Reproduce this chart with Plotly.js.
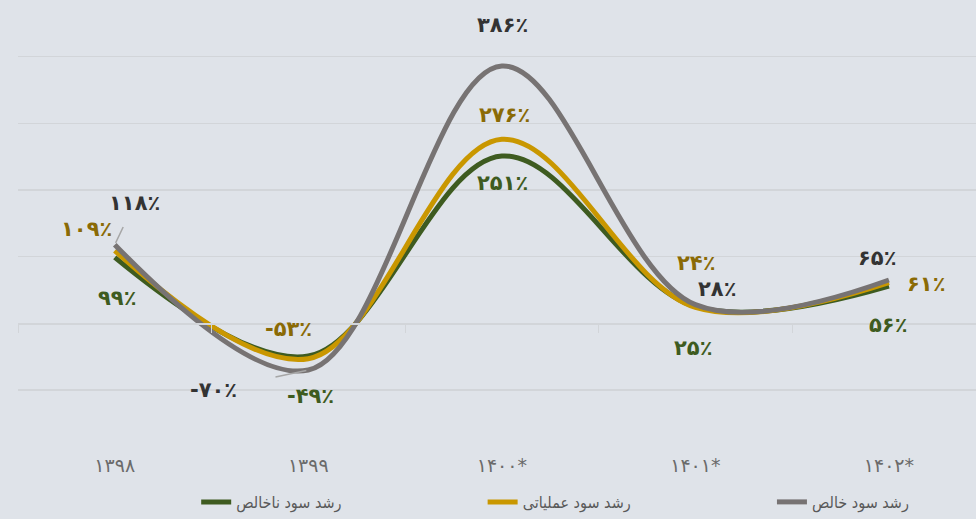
<!DOCTYPE html>
<html>
<head>
<meta charset="utf-8">
<script src="https://cdn.plot.ly/plotly-3.0.1.min.js"></script>
<style>
  body { margin: 0; background: #dfe3e9; }
  #chart { width: 976px; height: 519px; }
</style>
</head>
<body>
<div id="chart"></div>
<script>
// سال‌ها (دسته‌ها)
const years = ['۱۳۹۸', '۱۳۹۹', '۱۴۰۰*', '۱۴۰۱*', '۱۴۰۲*'];

// نام سری‌ها
const seriesNames = ['رشد سود ناخالص', 'رشد سود عملیاتی', 'رشد سود خالص'];

// مقادیر (درصد)
const grossGrowth = [99, -49, 251, 25, 56];
const operatingGrowth = [109, -53, 276, 24, 61];
const netGrowth = [118, -70, 386, 28, 65];

const colors = ['#3e5b20', '#c99700', '#777373'];
const labelColors = ['#3e5b20', '#8a6a05', '#333333'];

// جابه‌جایی برچسب‌ها نسبت به نقطه (پیکسل)
const shiftX = [
    [2, 2, 1, -2, -1],
    [-28, -20, 3, 1, 37],
    [20, -95, 1, 22, -12]
];
const shiftY = [
    [-41, -40, -27, -41, -39],
    [22, 30, 24, 44, -1],
    [42, -20, 41, 16, 22]
];
// جای افقی هر راهنما (کسر عرض نمودار)
const legendX = [0.186, 0.485, 0.787];

function toPersian(n) {
    const d = '۰۱۲۳۴۵۶۷۸۹';
    const s = String(Math.abs(n)).replace(/[0-9]/g, c => d[c]);
    return (n < 0 ? '-' : '') + s + '٪';
}

const allValues = [grossGrowth, operatingGrowth, netGrowth];
const legendIds = ['legend', 'legend2', 'legend3'];

const traces = allValues.map((vals, i) => ({
    x: years,
    y: vals,
    name: seriesNames[i],
    type: 'scatter',
    mode: 'lines',
    legend: legendIds[i],
    line: { shape: 'spline', width: 5, color: colors[i] },
    hoverinfo: 'skip'
}));

// محور کمکی برای خط صفر و تیک‌ها
traces.push({
    x: years, y: [null, null, null, null, null],
    xaxis: 'x2', type: 'scatter', mode: 'lines',
    showlegend: false, hoverinfo: 'skip'
});

const yMin = -190, yMax = 485;

const annotations = [];
allValues.forEach((vals, i) => {
    vals.forEach((v, j) => {
        const withArrow = (i === 2 && (j === 0 || j === 1));
        const a = {
            x: years[j], y: v, xref: 'x', yref: 'y',
            text: toPersian(v),
            font: { family: 'DejaVu Sans', size: 21, color: labelColors[i], weight: 'bold' },
            showarrow: withArrow
        };
        if (withArrow) {
            a.ax = shiftX[i][j];
            a.ay = -shiftY[i][j];
            a.arrowhead = 0;
            a.arrowwidth = 1.5;
            a.arrowcolor = '#a6a6a6';
            a.startstandoff = j === 0 ? 12 : 38;
            a.standoff = 2;
        } else {
            a.xshift = shiftX[i][j];
            a.yshift = shiftY[i][j];
        }
        annotations.push(a);
    });
});

const legendBase = {
    orientation: 'h',
    xanchor: 'left',
    y: -0.1533,
    yanchor: 'bottom',
    font: { family: 'DejaVu Sans Condensed, DejaVu Sans', size: 16, color: '#595959' },
    bgcolor: 'rgba(0,0,0,0)'
};

const layout = {
    width: 976,
    height: 519,
    paper_bgcolor: '#dfe3e9',
    plot_bgcolor: '#dfe3e9',
    margin: { l: 18, r: 0, t: 0, b: 69 },
    font: { family: 'DejaVu Sans', color: '#595959' },
    xaxis: {
        type: 'category',
        range: [-0.5, 4.45],
        showgrid: false,
        zeroline: false,
        showline: false,
        ticks: '',
        ticklabelstandoff: 2,
        tickfont: { family: 'DejaVu Sans', size: 19, color: '#6b6b6b' },
        fixedrange: true
    },
    xaxis2: {
        type: 'category',
        overlaying: 'x',
        matches: 'x',
        anchor: 'free',
        position: (0 - yMin) / (yMax - yMin),
        showline: true,
        linecolor: '#d2d5d9',
        linewidth: 1.5,
        ticks: 'outside',
        tickson: 'boundaries',
        ticklen: 8,
        tickcolor: '#d2d5d9',
        showticklabels: false,
        showgrid: false
    },
    yaxis: {
        range: [yMin, yMax],
        dtick: 100,
        tick0: 0,
        showgrid: true,
        gridcolor: '#d2d5d9',
        gridwidth: 1.5,
        zeroline: false,
        showticklabels: false,
        ticks: '',
        fixedrange: true
    },
    showlegend: true,
    legend: Object.assign({}, legendBase, { x: legendX[0] }),
    legend2: Object.assign({}, legendBase, { x: legendX[1] }),
    legend3: Object.assign({}, legendBase, { x: legendX[2] }),
    annotations: annotations
};

Plotly.newPlot('chart', traces, layout, { displayModeBar: false, staticPlot: true });
</script>
</body>
</html>
